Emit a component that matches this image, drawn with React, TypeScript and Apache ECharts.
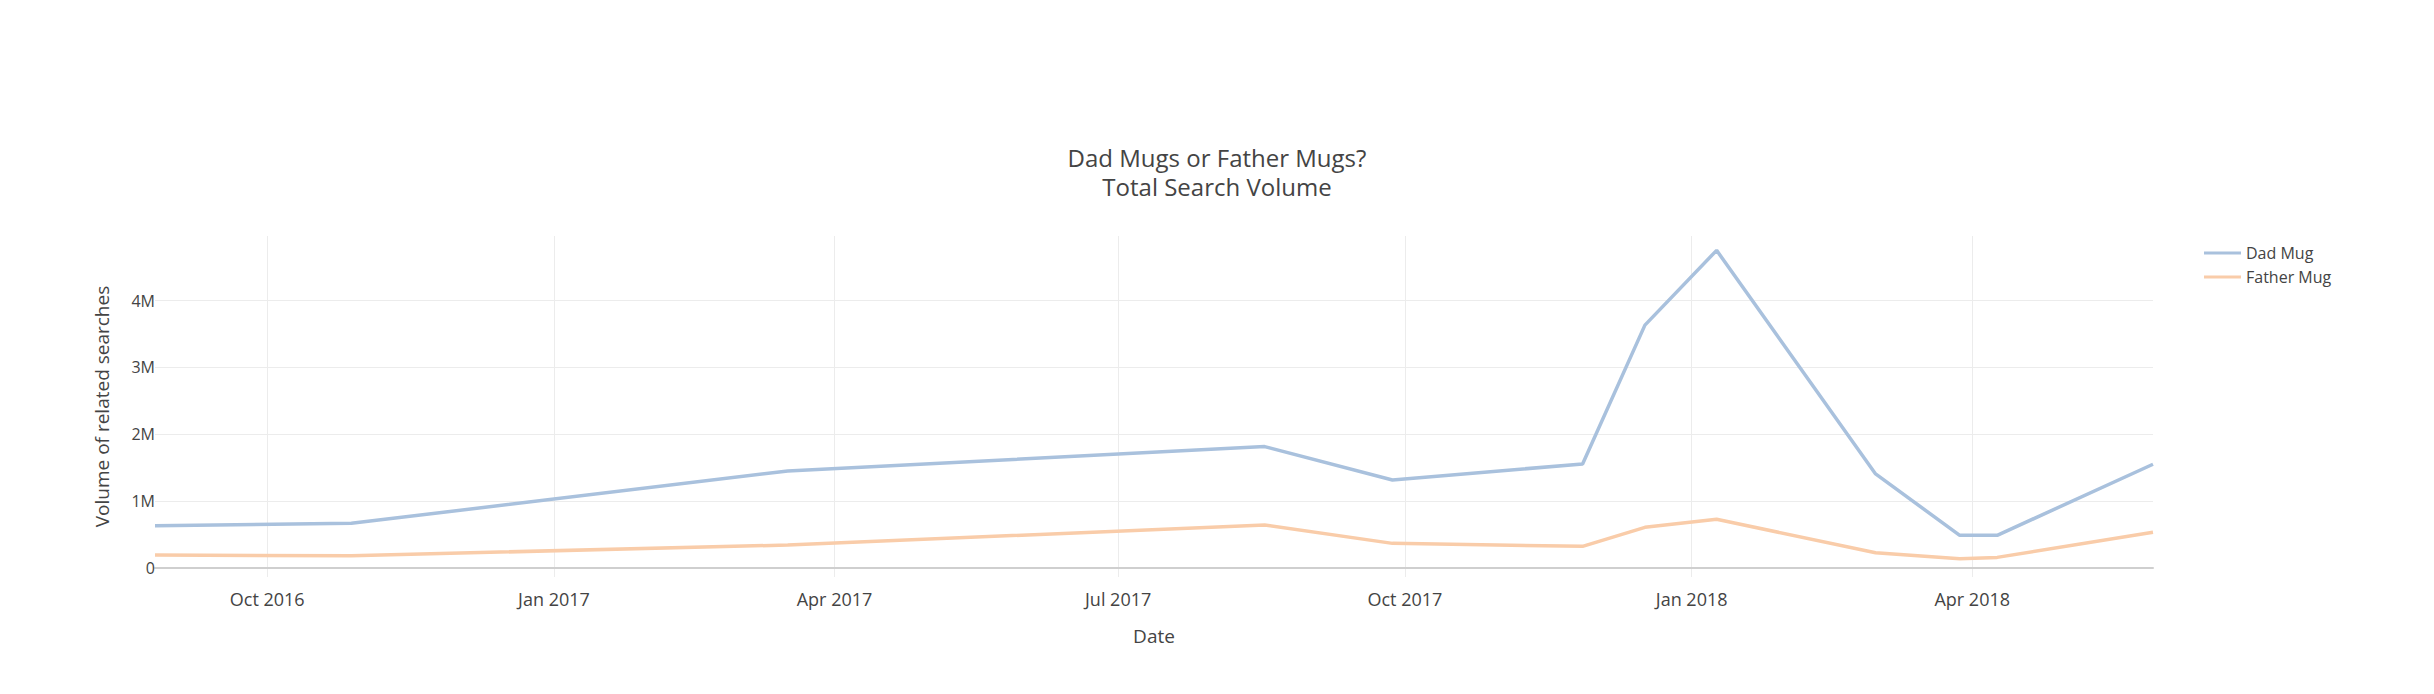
import React, { useEffect, useRef } from 'react';
import * as echarts from 'echarts';

// ---- Data ----
const dates = [
  '2016-08-26', '2016-10-28', '2017-03-17', '2017-08-17', '2017-09-27', '2017-11-27',
  '2017-12-17', '2018-01-09', '2018-03-01', '2018-03-28', '2018-04-09', '2018-05-29',
];
const dadMug = [630000, 665000, 1450000, 1815000, 1315000, 1555000, 3635000, 4755000, 1405000, 485000, 485000, 1550000];
const fatherMug = [190000, 180000, 340000, 640000, 365000, 320000, 605000, 725000, 225000, 135000, 155000, 530000];

const xTickDates = ['2016-10-01', '2017-01-01', '2017-04-01', '2017-07-01', '2017-10-01', '2018-01-01', '2018-04-01'];
const xTickLabels = ['Oct 2016', 'Jan 2017', 'Apr 2017', 'Jul 2017', 'Oct 2017', 'Jan 2018', 'Apr 2018'];
const yTicks = [0, 1000000, 2000000, 3000000, 4000000];
const yTickLabels = ['0', '1M', '2M', '3M', '4M'];
const yMin = -139000;
const yMax = 4970000;

const toTime = (s: string) => {
  const [y, m, d] = s.split('-').map(Number);
  return Date.UTC(y, m - 1, d);
};

const FONT = 'Open Sans';
const TEXT = '#444';

export default function App() {
  const ref = useRef<HTMLDivElement>(null);
  useEffect(() => {
    if (!ref.current) return;
    const chart = echarts.init(ref.current, undefined, { renderer: 'svg' });
    const xTickTimes = xTickDates.map(toTime);
    const nearestLabel = (v: number, vals: number[], labels: string[]) => {
      for (let i = 0; i < vals.length; i++) {
        if (Math.abs(vals[i] - v) < 1) return labels[i];
      }
      return '';
    };
    chart.setOption({
      animation: false,
      backgroundColor: '#ffffff',
      textStyle: { fontFamily: FONT },
      title: {
        text: 'Dad Mugs or Father Mugs?\nTotal Search Volume',
        left: 'center',
        top: 143,
        padding: [0, 14, 0, 0],
        textStyle: { fontFamily: FONT, fontSize: 24, fontWeight: 'normal', color: TEXT, lineHeight: 29 },
      },
      legend: {
        orient: 'vertical',
        left: 2199,
        top: 240,
        itemWidth: 37,
        itemHeight: 3,
        itemGap: 8,
        icon: 'rect',
        textStyle: { fontFamily: FONT, fontSize: 16, color: TEXT, lineHeight: 16 },
        data: ['Dad Mug', 'Father Mug'],
      },
      grid: { left: 155, right: 281, top: 236, bottom: 117, containLabel: false },
      xAxis: {
        type: 'value',
        min: toTime(dates[0]),
        max: toTime(dates[dates.length - 1]),
        name: 'Date',
        nameLocation: 'middle',
        nameGap: 49,
        nameTextStyle: { fontFamily: FONT, fontSize: 19, color: TEXT, verticalAlign: 'top' },
        axisLine: { onZero: true, lineStyle: { color: '#cfcfcf', width: 2 } },
        axisTick: { show: false, customValues: xTickTimes },
        axisLabel: {
          customValues: xTickTimes,
          formatter: (v: number) => nearestLabel(v, xTickTimes, xTickLabels),
          fontFamily: FONT,
          fontSize: 18,
          color: TEXT,
          margin: 13,
        },
        splitLine: { show: true, lineStyle: { color: '#ececec', width: 1 } },
      },
      yAxis: {
        type: 'value',
        min: yMin,
        max: yMax,
        name: 'Volume of related searches',
        nameLocation: 'middle',
        nameGap: 44,
        nameTextStyle: { fontFamily: FONT, fontSize: 19, color: TEXT },
        axisLine: { show: false },
        axisTick: { show: false, customValues: yTicks },
        axisLabel: {
          customValues: yTicks,
          formatter: (v: number) => nearestLabel(v, yTicks, yTickLabels),
          fontFamily: FONT,
          fontSize: 16,
          color: TEXT,
          margin: 0,
        },
        splitLine: { show: true, lineStyle: { color: '#ececec', width: 1 } },
      },
      series: [
        {
          name: 'Dad Mug',
          type: 'line',
          data: dates.map((d, i) => [toTime(d), dadMug[i]]),
          showSymbol: false,
          symbol: 'none',
          color: '#a9c1dd',
          lineStyle: { color: '#a9c1dd', width: 3.5 },
        },
        {
          name: 'Father Mug',
          type: 'line',
          data: dates.map((d, i) => [toTime(d), fatherMug[i]]),
          showSymbol: false,
          symbol: 'none',
          color: '#f9cca9',
          lineStyle: { color: '#f9cca9', width: 3.5 },
        },
      ],
    });
    return () => chart.dispose();
  }, []);
  return (
    <div
      ref={ref}
      style={{ position: 'fixed', left: 0, top: 0, width: 2434, height: 694, background: '#fff' }}
    />
  );
}
